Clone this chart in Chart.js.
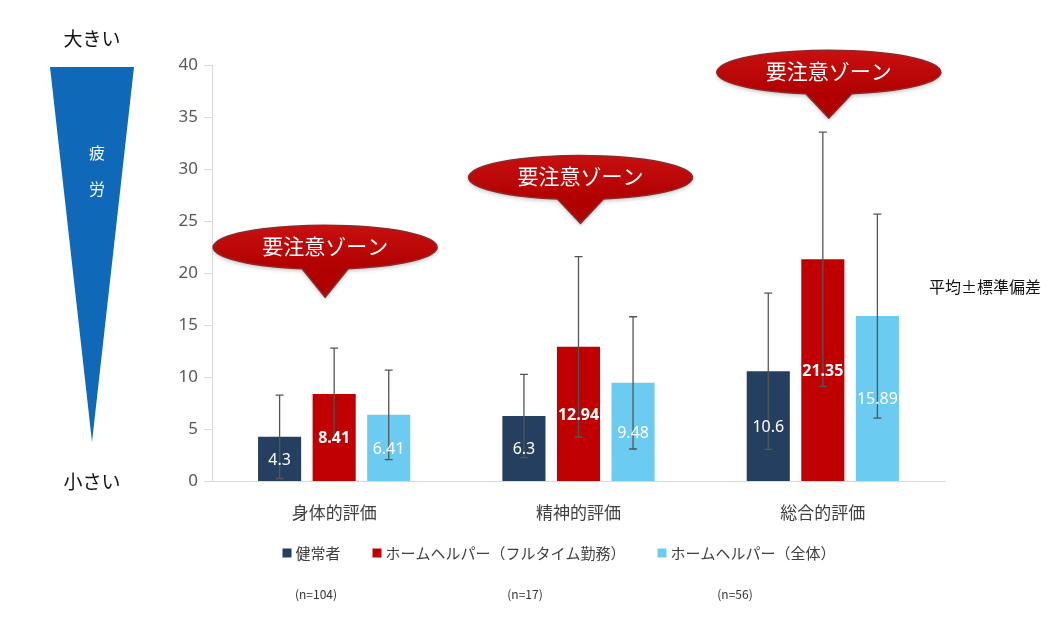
<!DOCTYPE html>
<html lang="ja">
<head>
<meta charset="UTF-8">
<title>疲労評価</title>
<script src="https://cdn.jsdelivr.net/npm/chart.js"></script>
<style>
  html, body { margin: 0; padding: 0; background: #fff; }
  #wrap { width: 1059px; height: 625px; }
</style>
</head>
<body>
<div id="wrap"><canvas id="fatigueChart" width="1059" height="625"></canvas></div>
<script>
// data
const categories = ['身体的評価', '精神的評価', '総合的評価'];
const seriesNames = ['健常者', 'ホームヘルパー（フルタイム勤務）', 'ホームヘルパー（全体）'];
const healthy = [4.3, 6.3, 10.6];
const helperFull = [8.41, 12.94, 21.35];
const helperAll = [6.41, 9.48, 15.89];
// standard deviations (error bars)
const sdHealthy = [4.0, 4.0, 7.5];
const sdFull = [4.4, 8.66, 12.2];
const sdAll = [4.3, 6.35, 9.8];
const sampleSizes = ['(n=104)', '(n=17)', '(n=56)'];
const yMin = 0, yMax = 40, yStep = 5;

const colors = ['#243f5f', '#c00000', '#6bcbf1'];
const jpFont = "'Noto Sans CJK JP', 'Noto Sans', sans-serif";
const numFont = "'Noto Sans', 'Lato', sans-serif";

// callouts: which category, where the pointer tip and the ellipse sit (in y units)
const callouts = [
  { cat: 0, dx: -9, tip: 17.7, center: 22.5 },
  { cat: 1, dx: 2, tip: 24.8, center: 29.2 },
  { cat: 2, dx: 6, tip: 34.9, center: 39.3 }
];

const errorBars = {
  id: 'errorBars',
  afterDatasetsDraw(chart) {
    const ctx = chart.ctx;
    const y = chart.scales.y;
    const sds = [sdHealthy, sdFull, sdAll];
    ctx.save();
    ctx.strokeStyle = '#555';
    ctx.lineWidth = 1.3;
    chart.data.datasets.forEach((ds, i) => {
      chart.getDatasetMeta(i).data.forEach((bar, j) => {
        const v = ds.data[j];
        const top = y.getPixelForValue(v + sds[i][j]);
        const bot = y.getPixelForValue(v - sds[i][j]);
        ctx.beginPath();
        ctx.moveTo(bar.x, top); ctx.lineTo(bar.x, bot);
        ctx.moveTo(bar.x - 4, top); ctx.lineTo(bar.x + 4, top);
        ctx.moveTo(bar.x - 4, bot); ctx.lineTo(bar.x + 4, bot);
        ctx.stroke();
      });
    });
    // value labels inside bars
    ctx.textAlign = 'center';
    ctx.textBaseline = 'middle';
    ctx.fillStyle = '#fff';
    chart.data.datasets.forEach((ds, i) => {
      ctx.font = (i === 1 ? 'bold ' : '') + '16px ' + numFont;
      chart.getDatasetMeta(i).data.forEach((bar, j) => {
        ctx.fillText(String(ds.data[j]), bar.x, (bar.y + bar.base) / 2 + 1);
      });
    });
    ctx.restore();
  }
};

const decorations = {
  id: 'decorations',
  afterDraw(chart) {
    const ctx = chart.ctx;
    const x = chart.scales.x, y = chart.scales.y;
    ctx.save();

    // fatigue wedge on the left
    ctx.fillStyle = '#1068b8';
    ctx.beginPath();
    ctx.moveTo(50, 67); ctx.lineTo(134, 67); ctx.lineTo(92, 442);
    ctx.closePath(); ctx.fill();
    ctx.textAlign = 'center';
    ctx.textBaseline = 'middle';
    ctx.fillStyle = '#fff';
    ctx.font = '16px ' + jpFont;
    ctx.fillText('疲', 97, 153);
    ctx.fillText('労', 97, 189);
    ctx.fillStyle = '#111';
    ctx.font = '19px ' + jpFont;
    ctx.fillText('大きい', 92, 39);
    ctx.fillText('小さい', 92, 482);

    ctx.font = '16px ' + jpFont;
    ctx.fillText('平均±標準偏差', 985, 287);

    // legend
    ctx.font = '15px ' + jpFont;
    const box = 9, gapText = 4, gapItem = 32;
    const widths = chart.data.datasets.map(ds => box + gapText + ctx.measureText(ds.label).width);
    const total = widths.reduce((a, b) => a + b, 0) + gapItem * (widths.length - 1);
    let lx = 559 - total / 2;
    const ly = 553;
    ctx.textAlign = 'left';
    chart.data.datasets.forEach((ds, i) => {
      ctx.fillStyle = ds.backgroundColor;
      ctx.fillRect(lx, ly - box / 2, box, box);
      ctx.fillStyle = '#404040';
      ctx.fillText(ds.label, lx + box + gapText, ly);
      lx += widths[i] + gapItem;
    });

    // sample sizes under the legend
    ctx.textAlign = 'center';
    ctx.font = '12px ' + jpFont;
    ctx.fillStyle = '#333';
    [316, 525, 735].forEach((px, i) => ctx.fillText(sampleSizes[i], px, 594));

    // warning callouts
    callouts.forEach(c => {
      const cx = x.getPixelForValue(c.cat) + c.dx;
      const cy = y.getPixelForValue(c.center);
      const ty = y.getPixelForValue(c.tip);
      ctx.save();
      ctx.shadowColor = 'rgba(0,0,0,0.25)';
      ctx.shadowBlur = 4;
      ctx.shadowOffsetY = 2;
      const g = ctx.createLinearGradient(0, cy - 22, 0, cy + 22);
      g.addColorStop(0, '#c81010');
      g.addColorStop(1, '#b00000');
      ctx.fillStyle = g;
      ctx.strokeStyle = '#8c2a2a';
      ctx.lineWidth = 1.5;
      ctx.beginPath();
      ctx.ellipse(cx, cy, 112, 22, 0, 0.566 * Math.PI, 0.434 * Math.PI);
      ctx.lineTo(cx, ty);
      ctx.closePath();
      ctx.fill();
      ctx.shadowColor = 'transparent';
      ctx.stroke();
      ctx.restore();
      ctx.fillStyle = '#fff';
      ctx.font = '21px ' + jpFont;
      ctx.fillText('要注意ゾーン', cx, cy - 1);
    });
    ctx.restore();
  }
};

new Chart(document.getElementById('fatigueChart'), {
  type: 'bar',
  data: {
    labels: categories,
    datasets: [
      { label: seriesNames[0], data: healthy, backgroundColor: colors[0] },
      { label: seriesNames[1], data: helperFull, backgroundColor: colors[1] },
      { label: seriesNames[2], data: helperAll, backgroundColor: colors[2] }
    ]
  },
  options: {
    responsive: false,
    animation: false,
    categoryPercentage: 0.67,
    barPercentage: 0.79,
    layout: { padding: { left: 160, right: 114, top: 65, bottom: 81 } },
    scales: {
      x: {
        grid: { display: false, drawTicks: false },
        border: { color: '#d9d9d9' },
        ticks: { color: '#404040', padding: 21, font: { family: jpFont, size: 17 } }
      },
      y: {
        min: yMin, max: yMax,
        ticks: { stepSize: yStep, color: '#595959', padding: 6, font: { family: numFont, size: 17 } },
        grid: { drawOnChartArea: false, tickLength: 8, color: '#d9d9d9' },
        border: { color: '#d9d9d9' },
        afterFit(scale) { scale.width = 52; }
      }
    },
    plugins: {
      legend: { display: false },
      tooltip: { enabled: false }
    }
  },
  plugins: [errorBars, decorations]
});
</script>
</body>
</html>
